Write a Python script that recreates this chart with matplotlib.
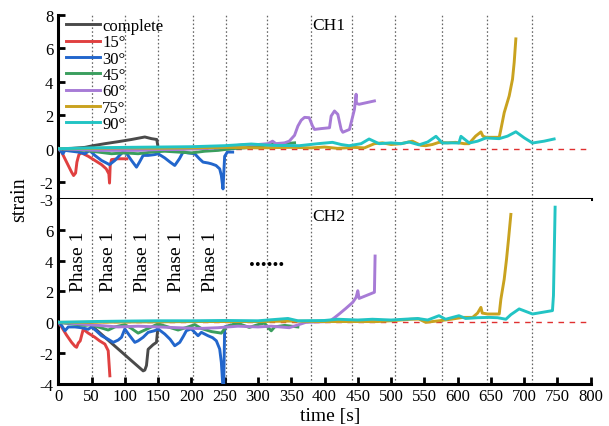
import matplotlib
matplotlib.use("Agg")
import matplotlib.pyplot as plt

plt.rcParams['font.family'] = ['Liberation Serif', 'DejaVu Serif']
plt.rcParams['axes.unicode_minus'] = False

labels = ['complete', '15°', '30°', '45°', '60°', '75°', '90°']
colors = ['#4a4a4a', '#e04040', '#2266cc', '#3a9e5e', '#a77bd6', '#c9a21f', '#22c4c4']

# ---------------- CH1 ----------------
c1_complete_t = [0, 20, 40, 52, 70, 90, 110, 130, 140, 148, 150]
c1_complete_y = [0, 0.02, 0.08, 0.18, 0.3, 0.42, 0.55, 0.7, 0.6, 0.55, 0.05]
c1_15_t = [0, 5, 10, 15, 20, 23, 26, 28, 31, 35, 45, 55, 65, 72, 76, 77, 78, 80, 90, 103]
c1_15_y = [0, -0.2, -0.6, -1.0, -1.4, -1.6, -1.45, -0.8, -0.35, -0.25, -0.45, -0.7, -0.95, -1.2, -1.5, -2.05, -1.0, -0.65, -0.6, -0.6]
c1_30_t = [0, 4, 7, 10, 20, 30, 40, 47, 55, 65, 77, 85, 92, 97, 103, 110, 117.5, 122, 127.5, 135, 145, 150, 160, 168, 175,
           182, 187.5, 195, 205, 212, 217.5, 225, 230, 237, 242.5, 245, 247.5, 249, 250, 254, 262]
c1_30_y = [0, -0.15, -0.3, -0.1, -0.15, -0.2, -0.3, -0.1, -0.4, -0.7, -0.95, -0.7, -0.4, -0.2, -0.3, -0.7, -1.1, -0.8, -0.4,
           -0.4, -0.35, -0.3, -0.55, -0.8, -1.0, -0.6, -0.2, -0.25, -0.3, -0.6, -0.8, -0.85, -0.9, -1.0, -1.2, -1.6, -2.4,
           -1.2, -0.45, -0.2, -0.2]
c1_45_t = [0, 20, 40, 60, 80, 100, 120, 140, 160, 180, 200, 220, 240, 260, 280, 300, 320, 340, 355]
c1_45_y = [0, -0.05, -0.1, -0.2, -0.3, -0.25, -0.3, -0.2, -0.15, -0.2, -0.25, -0.15, -0.1, 0.0, 0.05, 0.15, 0.25, 0.3, 0.35]
c1_60_t = [0, 30, 60, 90, 120, 150, 180, 210, 240, 260, 280, 300, 315, 322, 327, 340, 347, 355, 360, 365, 370, 377, 382,
           385, 395, 407.5, 410, 415, 420, 425, 427.5, 437.5, 440, 445, 447.5, 448, 452, 475]
c1_60_y = [0, -0.05, -0.1, -0.1, -0.1, -0.05, -0.05, 0.0, 0.05, 0.15, 0.25, 0.25, 0.3, 0.45, 0.3, 0.35, 0.45, 0.8, 1.35,
           1.7, 1.87, 1.85, 1.35, 1.15, 1.2, 1.25, 1.95, 2.25, 2.05, 1.15, 0.98, 1.15, 1.55, 2.35, 3.25, 2.7, 2.65, 2.85]
c1_75_t = [0, 50, 100, 150, 200, 250, 300, 350, 380, 400, 420, 443, 460, 475, 487, 500, 515, 532, 545, 552, 562, 572, 585,
           597, 610, 617, 627, 635, 638, 642.5, 662.5, 665, 670, 677.5, 682.5, 685, 687.5]
c1_75_y = [0, 0.02, 0.05, 0.03, 0.05, 0.08, 0.05, 0.08, 0.05, 0.1, 0.02, 0.08, 0.05, 0.3, 0.35, 0.25, 0.3, 0.45, 0.2, 0.18,
           0.25, 0.38, 0.35, 0.38, 0.3, 0.3, 0.75, 1.0, 0.75, 0.68, 0.68, 1.15, 2.15, 3.15, 4.15, 5.15, 6.55]
c1_90_t = [0, 50, 100, 150, 200, 250, 290, 320, 362, 390, 412, 425, 437, 455, 467, 482, 500, 515, 527, 542, 555, 567.5,
           577, 590, 602, 605, 617.5, 630, 642.5, 662.5, 675, 687.5, 700, 712.5, 730, 745]
c1_90_y = [0, 0.05, 0.08, 0.1, 0.12, 0.18, 0.28, 0.2, 0.18, 0.3, 0.38, 0.25, 0.18, 0.3, 0.58, 0.3, 0.35, 0.3, 0.4, 0.23,
           0.4, 0.74, 0.34, 0.35, 0.34, 0.74, 0.34, 0.45, 0.64, 0.6, 0.75, 1.01, 0.65, 0.34, 0.45, 0.58]

# ---------------- CH2 ----------------
c2_complete_t = [0, 20, 47, 70, 90, 110, 127.5, 130, 132.5, 135, 142.5, 147.5, 150, 151]
c2_complete_y = [0, -0.05, -0.1, -0.97, -1.73, -2.49, -3.15, -3.1, -2.8, -1.75, -1.45, -1.3, -0.2, -0.15]
c2_15_t = [0, 5, 12, 20, 25, 27.5, 30, 33, 37.5, 45, 55, 62, 70, 75, 77.5]
c2_15_y = [0, -0.3, -0.8, -1.3, -1.55, -1.62, -1.35, -1.2, -0.45, -0.7, -0.97, -1.2, -1.41, -1.84, -3.47]
c2_30_t = [0, 5, 10, 15, 25, 35, 45, 50, 57, 65, 75, 82.5, 90, 95, 100, 107, 115, 120, 127.5, 135, 145, 150, 160, 168,
           175, 182.5, 188, 192.5, 200, 210, 215, 225, 232, 237.5, 242.5, 245, 247.5, 248.5, 250, 258]
c2_30_y = [0, -0.2, -0.55, -0.3, -0.3, -0.35, -0.45, -0.3, -0.55, -0.87, -1.1, -1.3, -1.15, -0.97, -0.43, -0.85, -1.3,
           -1.2, -0.97, -0.65, -0.54, -0.43, -0.76, -1.1, -1.52, -1.3, -0.9, -0.54, -0.43, -0.87, -0.65, -0.87, -1.0, -1.2,
           -1.73, -2.6, -4.3, -4.3, -0.3, -0.2]
c2_45_t = [0, 20, 40, 50, 60, 75, 85, 100, 110, 120, 130, 145, 150, 165, 180, 195, 205, 215, 230, 245, 252, 265, 272,
           287, 300, 310, 315, 320, 325, 340, 360]
c2_45_y = [0, -0.1, -0.2, -0.15, -0.3, -0.5, -0.3, -0.15, -0.4, -0.7, -0.5, -0.2, -0.1, -0.3, -0.5, -0.3, -0.15, -0.4,
           -0.6, -0.7, -0.3, -0.1, -0.1, -0.33, -0.15, -0.05, -0.33, -0.55, -0.3, -0.2, -0.3]
c2_60_t = [0, 30, 60, 90, 120, 150, 180, 210, 240, 270, 300, 320, 347, 372, 407, 415, 422, 432, 442.5, 447.5, 450, 452,
           475, 476]
c2_60_y = [0, -0.1, -0.2, -0.3, -0.25, -0.3, -0.35, -0.4, -0.35, -0.25, -0.3, -0.25, -0.35, 0.0, 0.05, 0.3, 0.54, 0.9,
           1.3, 1.62, 2.05, 1.55, 1.95, 4.3]
c2_75_t = [0, 50, 100, 150, 200, 250, 300, 350, 400, 450, 480, 500, 530, 542, 552, 572, 590, 607.5, 622.5, 630, 635, 637,
           645, 662.5, 665, 670, 673.5, 676.5, 680]
c2_75_y = [0, 0.0, 0.02, 0.03, 0.05, 0.05, 0.05, 0.08, 0.05, 0.05, 0.05, 0.1, 0.2, 0.21, 0.0, 0.1, 0.2, 0.32, 0.32, 0.6,
           0.97, 0.6, 0.54, 0.54, 1.5, 2.8, 4.1, 5.4, 7.0]
c2_90_t = [0, 50, 100, 150, 200, 250, 300, 345, 360, 400, 420, 450, 472, 500, 520, 540, 555, 572, 582, 602, 612, 630,
           647, 660, 672.5, 680, 692.5, 712.5, 742.5, 744, 746.5]
c2_90_y = [0, 0.05, 0.08, 0.1, 0.1, 0.12, 0.1, 0.25, 0.1, 0.12, 0.2, 0.15, 0.2, 0.15, 0.2, 0.25, 0.15, 0.43, 0.2, 0.43,
           0.25, 0.3, 0.32, 0.3, 0.2, 0.5, 0.87, 0.54, 0.76, 1.73, 7.47]

vlines_t = [50, 100, 150, 202, 252, 313, 380, 441, 506, 577, 644, 712]
phase_t = [30, 75, 127, 178, 229]
phase_label = 'Phase 1'
xticks = list(range(0, 801, 50))

ch1 = [(c1_complete_t, c1_complete_y), (c1_15_t, c1_15_y), (c1_30_t, c1_30_y), (c1_45_t, c1_45_y),
       (c1_60_t, c1_60_y), (c1_75_t, c1_75_y), (c1_90_t, c1_90_y)]
ch2 = [(c2_complete_t, c2_complete_y), (c2_15_t, c2_15_y), (c2_30_t, c2_30_y), (c2_45_t, c2_45_y),
       (c2_60_t, c2_60_y), (c2_75_t, c2_75_y), (c2_90_t, c2_90_y)]

fig = plt.figure(figsize=(6.09, 4.27), dpi=100)
L, R = 0.0957, 0.970
ax1 = fig.add_axes([L, 0.5316, R - L, 0.9635 - 0.5316])
ax2 = fig.add_axes([L, 0.0984, R - L, 0.5316 - 0.0984])

for ax, data in ((ax1, ch1), (ax2, ch2)):
    for vt in vlines_t:
        ax.axvline(vt, color='#666666', ls=(0, (1.3, 1.8)), lw=0.9, zorder=1)
    ax.axhline(0, color='#e03030', ls=(0, (4, 4)), lw=1.0, zorder=1)
    for (t, y), c, lab in zip(data, colors, labels):
        ax.plot(t, y, color=c, lw=2.1, label=lab, zorder=3, solid_joinstyle='round')
    ax.set_xlim(0, 800)
    for s in ('top', 'right'):
        ax.spines[s].set_visible(False)
    for s in ('left', 'bottom'):
        ax.spines[s].set_linewidth(2.2)
    ax.tick_params(direction='in', width=2, length=5, labelsize=12)

ax1.set_ylim(-3, 8)
ax1.set_yticks([-3, -2, 0, 2, 4, 6, 8])
ax1.set_xticks([])
ax2.set_ylim(-4, 8)
ax2.set_yticks([-4, -2, 0, 2, 4, 6])
ax2.set_xticks(xticks)
ax2.set_xticklabels([str(v) for v in xticks])
ax2.tick_params(axis='x', pad=3)

leg = ax1.legend(loc='upper left', bbox_to_anchor=(-0.005, 1.035), frameon=False, fontsize=12,
                 handlelength=2.05, handletextpad=0.15, labelspacing=0.02, borderpad=0.1)

ax1.text(407, 7.4, 'CH1', fontsize=12.5, ha='center', va='center')
ax2.text(407, 6.9, 'CH2', fontsize=12.5, ha='center', va='center')
for pt in phase_t:
    ax2.text(pt, 4.0, phase_label, rotation=90, fontsize=14, ha='center', va='center')
ax2.text(313, 3.7, '......', fontsize=17, fontweight='bold', ha='center', va='baseline')

fig.text(0.033, 0.532, 'strain', rotation=90, fontsize=14.5, ha='center', va='center')
fig.text(0.543, 0.004, 'time [s]', fontsize=14, ha='center', va='bottom')

fig.savefig('out.png', dpi=100)
